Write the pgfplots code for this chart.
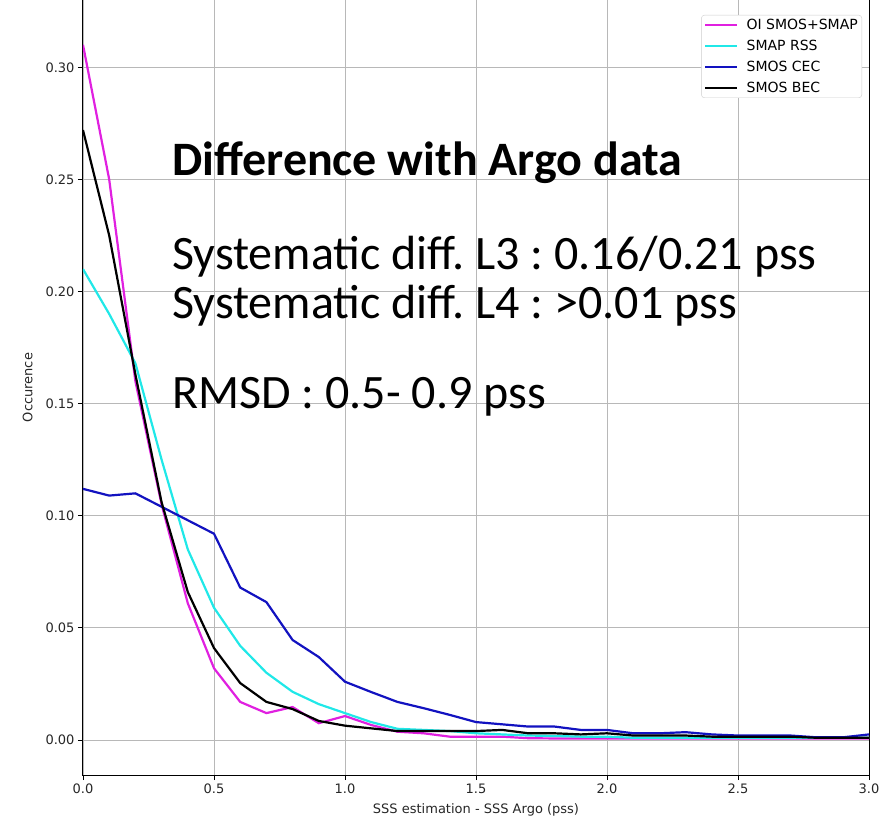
\documentclass[border=0pt]{standalone}
\usepackage{fontspec}
\setmainfont{DejaVu Sans}
\newfontfamily\carlito{Carlito}
\usepackage{pgfplots}
\pgfplotsset{compat=1.18}
\definecolor{cMag}{HTML}{E020E0}
\definecolor{cCyan}{HTML}{20E8E8}
\definecolor{cBlue}{HTML}{1212C0}
\definecolor{cGrid}{HTML}{B8B8B8}
\frenchspacing
\begin{document}
\begin{tikzpicture}
\begin{axis}[
  scale only axis,
  width=786pt, height=775pt,
  xmin=0, xmax=3, ymin=-0.0156, ymax=0.33,
  xtick={0,0.5,1,1.5,2,2.5,3},
  ytick={0,0.05,0.10,0.15,0.20,0.25,0.30},
  xtick pos=bottom, ytick pos=left,
  xticklabel style={/pgf/number format/.cd, fixed, fixed zerofill, precision=1},
  yticklabel style={/pgf/number format/.cd, fixed, fixed zerofill, precision=2},
  /pgf/number format/assume math mode=true,
  tick label style={font=\fontsize{13}{15}\selectfont, text=black!85},
  tick align=outside, major tick length=5pt,
  tick style={black, line width=0.8pt},
  grid=major, grid style={cGrid, line width=0.9pt},
  axis line style={black, line width=1pt},
  xlabel={SSS estimation - SSS Argo (pss)},
  ylabel={Occurence},
  label style={font=\fontsize{13}{15}\selectfont, text=black!85},
  xlabel style={yshift=-3pt},
  ylabel style={yshift=6pt},
  legend cell align=left,
  legend style={at={(rel axis cs:1,1)}, anchor=north east, xshift=-7pt, yshift=-15pt,
    draw=black!20, rounded corners=3pt, font=\fontsize{14}{16}\selectfont,
    row sep=6pt, inner sep=2.5pt, nodes={inner sep=1.5pt}},
  legend image code/.code={\draw[#1, line width=2.2pt] (0pt,0pt) -- (32pt,0pt); \path (39pt,0pt);},
  every axis plot/.append style={line width=2.2pt},
]
\addplot[cMag] coordinates {
(0.0,0.310)(0.1,0.250)(0.2,0.160)(0.3,0.105)(0.4,0.061)(0.5,0.032)(0.6,0.017)(0.7,0.012)
(0.8,0.0147)(0.9,0.0075)(1.0,0.0107)(1.1,0.0067)(1.2,0.0037)(1.3,0.003)(1.4,0.0015)(1.5,0.0015)
(1.6,0.0015)(1.7,0.0008)(1.8,0.0007)(1.9,0.0007)(2.0,0.0007)(2.1,0.0007)(2.2,0.0007)(2.3,0.0007)
(2.4,0.0007)(2.5,0.0007)(2.6,0.0007)(2.7,0.0007)(2.8,0.0007)(2.9,0.0007)(3.0,0.0007)};
\addlegendentry{OI SMOS+SMAP}
\addplot[cCyan] coordinates {
(0.0,0.210)(0.1,0.190)(0.2,0.168)(0.3,0.125)(0.4,0.085)(0.5,0.059)(0.6,0.042)(0.7,0.030)
(0.8,0.0215)(0.9,0.016)(1.0,0.012)(1.1,0.008)(1.2,0.005)(1.3,0.0045)(1.4,0.004)(1.5,0.003)
(1.6,0.0025)(1.7,0.002)(1.8,0.0018)(1.9,0.0015)(2.0,0.0015)(2.1,0.001)(2.2,0.001)(2.3,0.001)
(2.4,0.001)(2.5,0.001)(2.6,0.001)(2.7,0.001)(2.8,0.001)(2.9,0.001)(3.0,0.001)};
\addlegendentry{SMAP RSS}
\addplot[cBlue] coordinates {
(0.0,0.112)(0.1,0.109)(0.2,0.110)(0.3,0.104)(0.4,0.098)(0.5,0.092)(0.6,0.068)(0.7,0.0615)
(0.8,0.0446)(0.9,0.037)(1.0,0.026)(1.1,0.0214)(1.2,0.017)(1.3,0.0142)(1.4,0.0112)(1.5,0.008)
(1.6,0.007)(1.7,0.006)(1.8,0.006)(1.9,0.0045)(2.0,0.0045)(2.1,0.003)(2.2,0.003)(2.3,0.0035)
(2.4,0.0025)(2.5,0.002)(2.6,0.002)(2.7,0.002)(2.8,0.0012)(2.9,0.0012)(3.0,0.0025)};
\addlegendentry{SMOS CEC}
\addplot[black] coordinates {
(0.0,0.272)(0.1,0.225)(0.2,0.163)(0.3,0.106)(0.4,0.066)(0.5,0.041)(0.6,0.0254)(0.7,0.017)
(0.8,0.0138)(0.9,0.0085)(1.0,0.0064)(1.1,0.0052)(1.2,0.004)(1.3,0.004)(1.4,0.004)(1.5,0.004)
(1.6,0.0045)(1.7,0.003)(1.8,0.003)(1.9,0.0025)(2.0,0.003)(2.1,0.002)(2.2,0.002)(2.3,0.002)
(2.4,0.0015)(2.5,0.0015)(2.6,0.0015)(2.7,0.0015)(2.8,0.001)(2.9,0.001)(3.0,0.001)};
\addlegendentry{SMOS BEC}
\node[anchor=base west, inner sep=0pt, font=\carlito\bfseries\fontsize{48}{48}\selectfont] at (axis cs:0.34,0.2519) {Difference with Argo data};
\node[anchor=base west, inner sep=0pt, font=\carlito\fontsize{48}{48}\selectfont] at (axis cs:0.34,0.2100) {Systematic diff. L3 : 0.16/0.21 pss};
\node[anchor=base west, inner sep=0pt, font=\carlito\fontsize{48}{48}\selectfont] at (axis cs:0.34,0.1881) {Systematic diff. L4 : >0.01 pss};
\node[anchor=base west, inner sep=0pt, font=\carlito\fontsize{48}{48}\selectfont] at (axis cs:0.34,0.1480) {RMSD : 0.5- 0.9 pss};
\coordinate (SW) at (rel axis cs:0,0);
\end{axis}
\pgfresetboundingbox
\path[use as bounding box] ([shift={(-83pt,-45pt)}]SW) rectangle ++(894pt,820pt);
\end{tikzpicture}
\end{document}
